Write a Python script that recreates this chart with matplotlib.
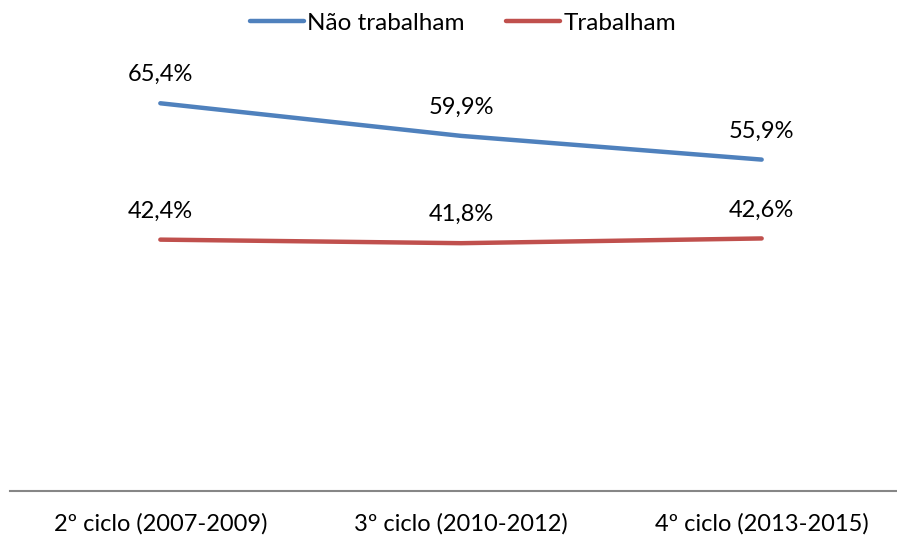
import matplotlib.pyplot as plt

plt.rcParams['font.family'] = ['Lato', 'DejaVu Sans']

categories = ['2º ciclo (2007-2009)', '3º ciclo (2010-2012)', '4º ciclo (2013-2015)']
nao_trabalham = [65.4, 59.9, 55.9]
trabalham = [42.4, 41.8, 42.6]

blue = '#4F81BD'
red = '#C0504D'

fig = plt.figure(figsize=(8.97, 5.39), dpi=100)
ax = fig.add_axes([10 / 897, 48 / 539, 902 / 897, 415 / 539])

x = range(len(categories))
ax.plot(x, nao_trabalham, color=blue, lw=3.2, solid_capstyle='round', label='Não trabalham')
ax.plot(x, trabalham, color=red, lw=3.2, solid_capstyle='round', label='Trabalham')

for series in (nao_trabalham, trabalham):
    for i, v in enumerate(series):
        ax.annotate(f"{v:.1f}%".replace('.', ','), (i, v), xytext=(0, 20.5),
                    textcoords='offset points', ha='center', va='center', fontsize=17)

ax.set_xlim(-0.5, 2.5)
ax.set_ylim(0, 70)
ax.set_yticks([])
ax.set_xticks(list(x))
ax.set_xticklabels(categories, fontsize=17)
ax.tick_params(axis='x', length=0, pad=16)
for side in ('left', 'right', 'top'):
    ax.spines[side].set_visible(False)
ax.spines['bottom'].set_color('#868686')
ax.spines['bottom'].set_linewidth(1.5)

fig.legend(loc='center', bbox_to_anchor=(463 / 897, 1 - 23 / 539), ncol=2, frameon=False,
           fontsize=17.5, handlelength=2.2, handletextpad=0.15, columnspacing=1.7)

fig.savefig('out.png', dpi=100)
